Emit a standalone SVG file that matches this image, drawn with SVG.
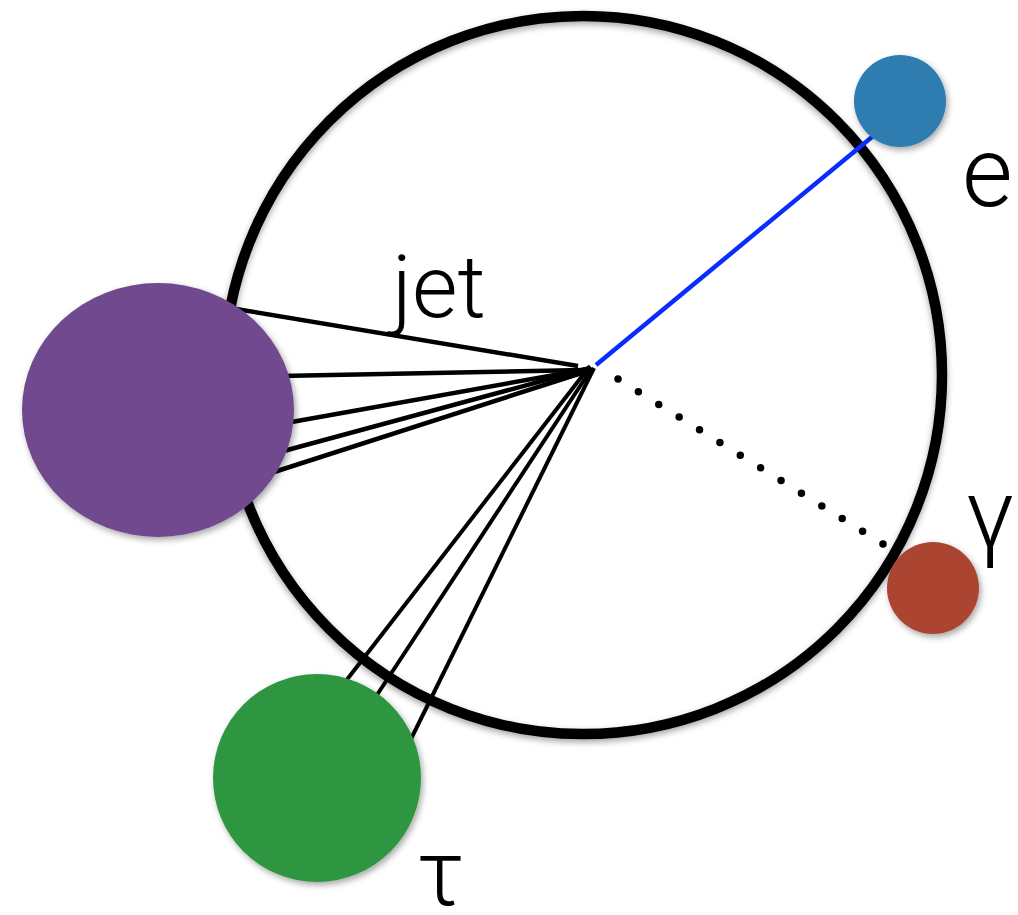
<svg xmlns="http://www.w3.org/2000/svg" width="1018" height="915" viewBox="0 0 1018 915">
  <defs>
    <filter id="shadow" x="-20%" y="-20%" width="140%" height="140%">
      <feDropShadow dx="2" dy="3" stdDeviation="3" flood-color="#000" flood-opacity="0.35"/>
    </filter>
    <filter id="ringShadow" x="-10%" y="-10%" width="120%" height="120%">
      <feDropShadow dx="0" dy="3" stdDeviation="3" flood-color="#000" flood-opacity="0.35"/>
    </filter>
  </defs>
  <style>
    .ring { fill: none; stroke: #000; stroke-width: 10.5; }
    .jet { stroke: #000; stroke-width: 4.5; stroke-linecap: butt; fill: none; }
    .tau { stroke: #000; stroke-width: 4; fill: none; }
    .ele { stroke: #0a2cff; stroke-width: 4.5; fill: none; }
    .pho { stroke: #000; stroke-width: 7.5; stroke-linecap: round; stroke-dasharray: 0 24.01; fill: none; }
    .lbl { font-family: Roboto, "Liberation Sans", Arial, sans-serif; font-weight: 300; fill: #000; }
  </style>
  <rect width="1018" height="915" fill="#fff"/>

  <g id="detector">
    <circle class="ring" cx="583" cy="375" r="359" filter="url(#ringShadow)"/>
  </g>

  <g id="connectors">
    <line class="jet" x1="236" y1="309" x2="578" y2="366"/>
    <line class="jet" x1="280" y1="376" x2="584" y2="370"/>
    <line class="jet" x1="286" y1="423" x2="588" y2="369"/>
    <line class="jet" x1="280" y1="452" x2="590" y2="368"/>
    <line class="jet" x1="271" y1="473" x2="591" y2="370"/>
    <line class="tau" x1="590" y1="366" x2="342" y2="686"/>
    <line class="tau" x1="592" y1="368" x2="373" y2="701"/>
    <line class="tau" x1="594" y1="368" x2="408" y2="745"/>
    <line class="ele" x1="596" y1="365" x2="878" y2="132"/>
    <line class="pho" x1="618" y1="379" x2="883" y2="544"/>
  </g>

  <g id="jet-node">
    <ellipse cx="158" cy="410" rx="136" ry="127" fill="#6f4a8e" filter="url(#shadow)"/>
    <text class="lbl" x="392" y="317" font-size="88">jet</text>
  </g>

  <g id="electron-node">
    <circle cx="900" cy="101" r="46" fill="#2e7cb0" filter="url(#shadow)"/>
    <text class="lbl" x="962" y="206" font-size="98">e</text>
  </g>

  <g id="photon-node">
    <circle cx="933" cy="588" r="46" fill="#ab4533" filter="url(#shadow)"/>
    <text class="lbl" x="966" y="548" font-size="98">γ</text>
  </g>

  <g id="tau-node">
    <circle cx="317" cy="778" r="104" fill="#2e9640" filter="url(#shadow)"/>
    <text class="lbl" x="417" y="905" font-size="92">τ</text>
  </g>
</svg>
